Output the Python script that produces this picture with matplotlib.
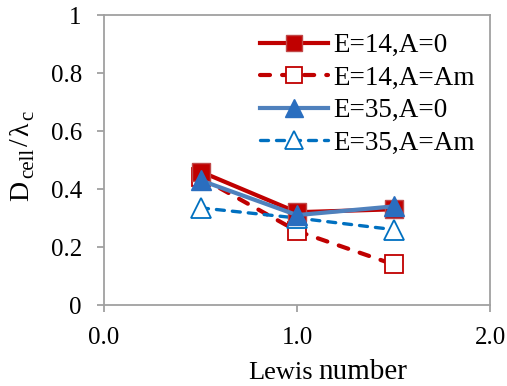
import matplotlib
matplotlib.use("Agg")
import matplotlib.pyplot as plt
from matplotlib.transforms import IdentityTransform

plt.rcParams['font.family'] = ['Liberation Serif', 'DejaVu Serif']

lewis = [0.5, 1.0, 1.5]
e14_a0 = [0.46, 0.32, 0.33]
e14_am = [0.44, 0.255, 0.14]
e35_a0 = [0.43, 0.31, 0.34]
e35_am = [0.335, 0.30, 0.26]
labels = ["E=14,A=0", "E=14,A=Am", "E=35,A=0", "E=35,A=Am"]

W, H = 507, 386
fig = plt.figure(figsize=(W/100, H/100), dpi=100)
ax = fig.add_axes([104/W, 81/H, (490-104)/W, (305-15)/H])

red = '#C00000'
blue_line = '#4F81BD'
blue_mk = '#2A6EBF'
blue_d = '#0070C0'

ax.plot(lewis, e14_am, color=red, lw=3, ls=(0, (2.4, 2.9)), marker='s', ms=13,
        mfc='white', mec=red, mew=1.3, label=labels[1], zorder=2,
        dash_capstyle='round')
ax.plot(lewis, e35_am, color=blue_d, lw=2.4, ls=(0, (2.4, 2.4)), marker='^', ms=14,
        mfc='white', mec=blue_d, mew=1.3, label=labels[3], zorder=2,
        dash_capstyle='round')
ax.plot(lewis, e14_a0, color=red, lw=3, marker='s', ms=13, mfc=red, mec='#C04848',
        mew=1, label=labels[0], zorder=3)
ax.plot(lewis, e35_a0, color=blue_line, lw=3, marker='^', ms=14, mfc=blue_mk,
        mec=blue_mk, mew=1, label=labels[2], zorder=4)

ax.set_xlim(0, 2)
ax.set_ylim(0, 1)
ax.set_xticks([0, 1, 2])
ax.set_xticklabels(["0.0", "1.0", "2.0"])
ax.set_yticks([0, 0.2, 0.4, 0.6, 0.8, 1.0])
ax.set_yticklabels(["0", "0.2", "0.4", "0.6", "0.8", "1"])
for s in ax.spines.values():
    s.set_color('#A0A0A0')
    s.set_linewidth(1.3)
ax.tick_params(direction='out', length=5, width=1.3, color='#A0A0A0',
               labelsize=18, labelcolor='black')
ax.tick_params(axis='y', pad=11)
ax.tick_params(axis='x', pad=11)

h, l = ax.get_legend_handles_labels()
order = [2, 0, 3, 1]
ax.legend([h[i] for i in order], [l[i] for i in order], loc='upper right',
          frameon=False, fontsize=19.5, handlelength=2.5, labelspacing=0.28,
          handletextpad=0.2, borderaxespad=0, borderpad=0.3, markerscale=0.88,
          bbox_to_anchor=(483, H - 25), bbox_transform=IdentityTransform())

# y label built from pieces (rotated 90 degrees)
fig.canvas.draw()
renderer = fig.canvas.get_renderer()
pieces = [("D", 20, 0), ("cell", 15, 5), ("/", 20, 0), ("λ", 20, 0), ("c", 15, 5)]
ypos = 201.0  # pixels from top, text runs upward
base_x = 28.0
for txt, fs, sub in pieces:
    t = fig.text((base_x + sub)/W, 1 - ypos/H, txt, rotation=90, rotation_mode='anchor',
                 ha='left', va='baseline', fontsize=fs)
    bb = t.get_window_extent(renderer)
    ypos -= bb.height + 2.5

fig.text(313/W, 1 - 379/H, "Lewis", ha='right', va='baseline', fontsize=19)
fig.text(318/W, 1 - 379/H, "number", ha='left', va='baseline', fontsize=21)

fig.savefig("out.png", dpi=100)
